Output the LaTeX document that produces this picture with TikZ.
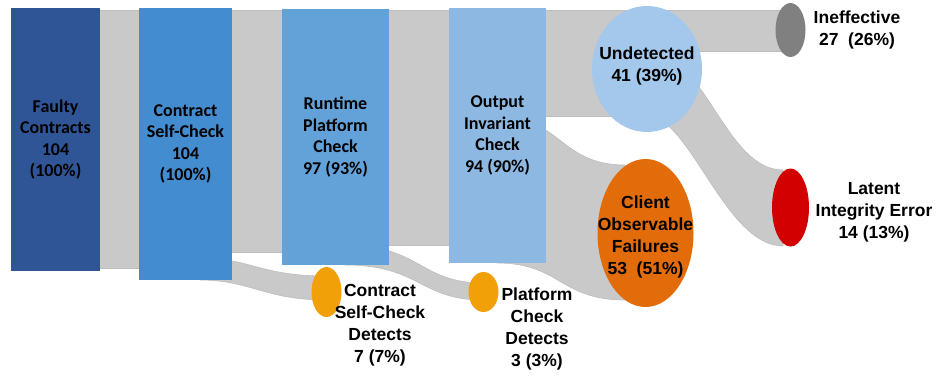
\documentclass[tikz,border=0pt]{standalone}
\usepackage{fontspec}
\setmainfont{Liberation Sans}
\newfontfamily\calfont{Carlito}
\usetikzlibrary{shapes.geometric}
\definecolor{flowgray}{HTML}{C9C9C9}
\definecolor{flowedge}{HTML}{BDBDBD}
\definecolor{cFaulty}{HTML}{2F5597}
\definecolor{cContract}{HTML}{438CCF}
\definecolor{cRuntime}{HTML}{63A1D9}
\definecolor{cOutput}{HTML}{8CB8E2}
\definecolor{cUndet}{HTML}{A3C8EB}
\definecolor{cIneff}{HTML}{808080}
\definecolor{cClient}{HTML}{E36C0A}
\definecolor{cLatent}{HTML}{D20000}
\definecolor{cDetect}{HTML}{F2A007}
\begin{document}
\begin{tikzpicture}[x=1pt,y=-1pt,
  flow/.style={fill=flowgray, draw=flowedge, line width=0.6pt},
  bar/.style={rectangle, inner sep=0pt, font=\calfont\bfseries\fontsize{18}{21.5}\selectfont, align=center, text=black},
  blob/.style={ellipse, inner sep=0pt},
  lbl/.style={inner sep=0pt, font=\bfseries\fontsize{17.5}{21.8}\selectfont, align=center, text=black}]
\useasboundingbox (0,0) rectangle (938,376);
% flows
\draw[flow] (55,10) rectangle (185,268);
\draw[flow] (185,10) rectangle (335,252);
\draw[flow] (335,10) rectangle (497,245);
\draw[flow] (497,10) rectangle (647,116);
\draw[flow] (647,10) rectangle (790,51);
\draw[flow] (200,258) .. controls (250,258) and (260,276) .. (326,276) -- (326,300) .. controls (265,300) and (250,280) .. (200,280) -- cycle;
\draw[flow] (345,245) .. controls (420,245) and (420,283) .. (483,283) -- (483,300) .. controls (420,300) and (420,265) .. (345,265) -- cycle;
\draw[flow] (497,116) .. controls (560,116) and (560,165) .. (625,165) -- (625,300) .. controls (560,300) and (560,263) .. (497,263) -- cycle;
\draw[flow] (647,51) .. controls (705,51) and (725,170) .. (783,170) -- (783,246) .. controls (725,246) and (690,116) .. (647,116) -- cycle;
% bars
\node[bar, fill=cFaulty, minimum width=89pt, minimum height=263pt] (faulty) at (55.5,139.5) {Faulty\\Contracts\\104\\(100\%)};
\node[bar, fill=cContract, minimum width=93pt, minimum height=272pt] (contract) at (185.5,144) {Contract\\Self-Check\\104\\(100\%)};
\node[bar, fill=cRuntime, minimum width=107pt, minimum height=256pt] (runtime) at (335.5,137) {Runtime\\Platform\\Check\\97 (93\%)};
\node[bar, fill=cOutput, minimum width=97pt, minimum height=255pt] (output) at (497.5,135.5) {Output\\Invariant\\Check\\94 (90\%)};
% ellipses
\node[blob, fill=cUndet, minimum width=110pt, minimum height=126pt] (undet) at (647,69) {};
\node[blob, fill=cIneff, minimum width=30pt, minimum height=54pt] (ineff) at (790.5,30) {};
\node[blob, fill=cClient, minimum width=96pt, minimum height=148pt] (client) at (645.5,233) {};
\node[blob, fill=cLatent, minimum width=37pt, minimum height=78pt] (latent) at (790.5,207.5) {};
\node[blob, fill=cDetect, minimum width=30pt, minimum height=50pt] (csd) at (326.5,292) {};
\node[blob, fill=cDetect, minimum width=30pt, minimum height=40pt] (pcd) at (483.5,292) {};
% labels
\node[lbl] (undetL) at (647,66) {Undetected\\41 (39\%)};
\node[lbl] (clientL) at (645.5,237) {Client\\Observable\\Failures\\53\ \ (51\%)};
\node[lbl] (ineffL) at (857,30) {Ineffective\\27\ \ (26\%)};
\node[lbl] (latentL) at (874,212) {Latent\\Integrity Error\\14 (13\%)};
\node[lbl] (csdL) at (380,325) {Contract\\Self-Check\\Detects\\7 (7\%)};
\node[lbl] (pcdL) at (537,329) {Platform\\Check\\Detects\\3 (3\%)};
\end{tikzpicture}
\end{document}
